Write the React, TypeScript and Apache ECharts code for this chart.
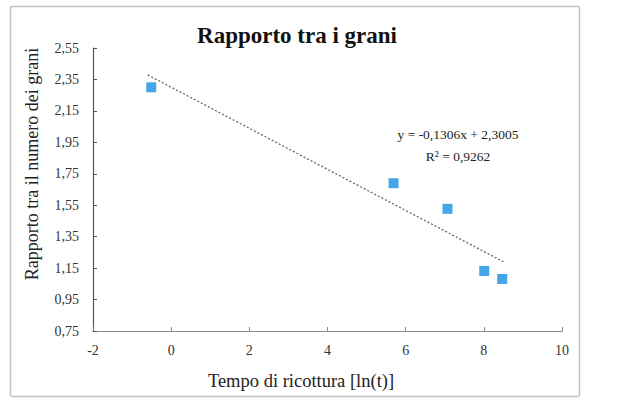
import React, { useEffect, useRef } from "react";
import * as echarts from "echarts";

const TITLE = "Rapporto tra i grani";
const X_NAME = "Tempo di ricottura [ln(t)]";
const Y_NAME = "Rapporto tra il numero dei grani";
const X_VALUES = [-0.51, 5.69, 7.07, 8.01, 8.47];
const Y_VALUES = [2.3, 1.69, 1.527, 1.132, 1.081];
const SLOPE = -0.1306;
const INTERCEPT = 2.3005;
const EQUATION = "y = -0,1306x + 2,3005";
const R2_LABEL = "R² = 0,9262";
const X_MIN = -2, X_MAX = 10, X_STEP = 2;
const Y_MIN = 0.75, Y_MAX = 2.55, Y_STEP = 0.2;

const FONT = "'Liberation Serif', 'DejaVu Serif', serif";

export default function App() {
  const ref = useRef<HTMLDivElement>(null);
  useEffect(() => {
    if (!ref.current) return;
    const chart = echarts.init(ref.current, undefined, { renderer: "svg" });
    const points = X_VALUES.map((x, i) => [x, Y_VALUES[i]]);
    const xLo = Math.min(...X_VALUES) - 0.09;
    const xHi = Math.max(...X_VALUES) + 0.03;
    const trend = [
      [xLo, INTERCEPT + SLOPE * xLo],
      [xHi, INTERCEPT + SLOPE * xHi],
    ];
    chart.setOption({
      animation: false,
      backgroundColor: "#ffffff",
      grid: { left: 93, right: 59, top: 48, bottom: 72 },
      xAxis: {
        type: "value",
        min: X_MIN,
        max: X_MAX,
        interval: X_STEP,
        splitLine: { show: false },
        axisLine: { onZero: false, lineStyle: { color: "#8a8a8a", width: 1.2 } },
        axisTick: { inside: true, length: 4, lineStyle: { color: "#8a8a8a" } },
        axisLabel: { color: "#333", fontFamily: FONT, fontSize: 14, margin: 12 },
      },
      yAxis: {
        type: "value",
        min: Y_MIN,
        max: Y_MAX,
        interval: Y_STEP,
        splitLine: { show: false },
        axisLine: { show: true, onZero: false, lineStyle: { color: "#555", width: 1.2 } },
        axisTick: { show: true, inside: true, length: 4, lineStyle: { color: "#555" } },
        axisLabel: {
          color: "#333",
          fontFamily: FONT,
          fontSize: 14,
          margin: 14,
          formatter: (v: number) => v.toFixed(2).replace(".", ","),
        },
      },
      series: [
        {
          type: "line",
          data: trend,
          symbol: "none",
          lineStyle: { color: "#666", width: 1.3, type: [2, 2] },
          silent: true,
          z: 1,
        },
        {
          type: "scatter",
          data: points,
          symbol: "rect",
          symbolSize: 10,
          itemStyle: { color: "#1590e0" },
          z: 3,
        },
      ],
      graphic: [
        {
          type: "rect",
          shape: { x: 10.5, y: 6.5, width: 569, height: 390, r: 2 },
          style: { fill: "none", stroke: "#c4c4c4", lineWidth: 1.5 },
          z: -1,
        },
        {
          type: "text",
          x: 297,
          y: 35,
          style: {
            text: TITLE,
            fontFamily: FONT,
            fontSize: 23,
            fontWeight: "bold",
            fill: "#111",
            align: "center",
            verticalAlign: "middle",
          },
        },
        {
          type: "text",
          x: 301,
          y: 381,
          style: {
            text: X_NAME,
            fontFamily: FONT,
            fontSize: 18.5,
            fill: "#222",
            align: "center",
            verticalAlign: "middle",
          },
        },
        {
          type: "text",
          x: 32,
          y: 164,
          rotation: Math.PI / 2,
          style: {
            text: Y_NAME,
            fontFamily: FONT,
            fontSize: 18,
            fill: "#222",
            align: "center",
            verticalAlign: "middle",
          },
        },
        {
          type: "text",
          x: 458,
          y: 134,
          style: {
            text: EQUATION,
            fontFamily: FONT,
            fontSize: 13.5,
            fill: "#222",
            align: "center",
            verticalAlign: "middle",
          },
        },
        {
          type: "text",
          x: 458,
          y: 156,
          style: {
            text: R2_LABEL,
            fontFamily: FONT,
            fontSize: 13.5,
            fill: "#222",
            align: "center",
            verticalAlign: "middle",
          },
        },
      ],
    });
    return () => chart.dispose();
  }, []);
  return (
    <div
      ref={ref}
      style={{ position: "fixed", left: 0, top: 0, width: 621, height: 403 }}
    />
  );
}
